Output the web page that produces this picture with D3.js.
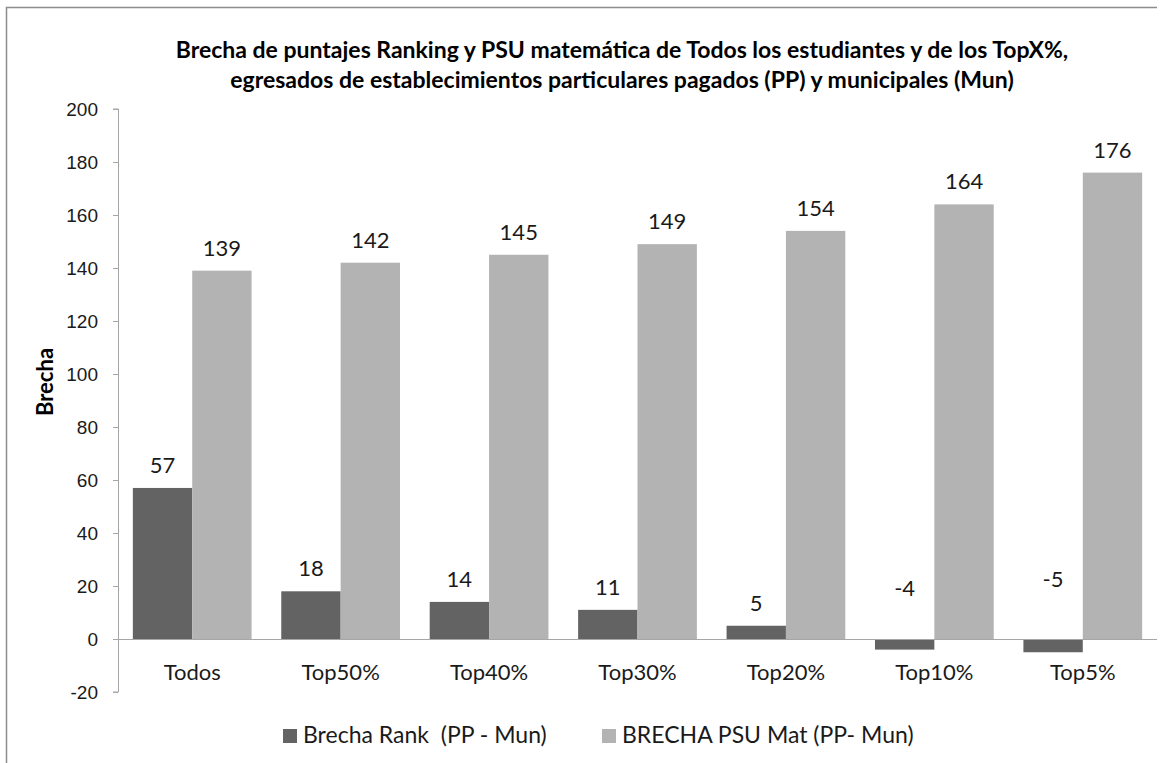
<!DOCTYPE html>
<html>
<head>
<meta charset="utf-8">
<script src="https://cdn.jsdelivr.net/npm/d3@7"></script>
<style>
  body { margin: 0; background: #fff; }
  svg { font-family: Lato, "Open Sans", sans-serif; }
</style>
</head>
<body>
<div id="chart"></div>
<script>
// Data
const categories = ['Todos', 'Top50%', 'Top40%', 'Top30%', 'Top20%', 'Top10%', 'Top5%'];
const rankGap = [57, 18, 14, 11, 5, -4, -5];
const psuGap = [139, 142, 145, 149, 154, 164, 176];
const seriesNames = ['Brecha Rank  (PP - Mun)', 'BRECHA PSU Mat (PP- Mun)'];
const seriesColors = ['#636363', '#b3b3b3'];
const yTicks = [-20, 0, 20, 40, 60, 80, 100, 120, 140, 160, 180, 200];
const titleLines = [
  'Brecha de puntajes Ranking y PSU matemática de Todos los estudiantes y de los TopX%,',
  'egresados de establecimientos particulares pagados (PP) y municipales (Mun)'
];

const W = 1165, H = 763;
const margin = { top: 109, right: 8, bottom: 71, left: 118 };
const width = W - margin.left - margin.right;
const height = H - margin.top - margin.bottom;

const root = d3.select('#chart').append('svg')
  .attr('width', W)
  .attr('height', H);

// Chart frame (left and top edges visible)
root.append('path')
  .attr('d', 'M6.5,763 V7.5 H1157')
  .attr('fill', 'none')
  .attr('stroke', '#8c8c8c')
  .attr('stroke-width', 1.5);

const svg = root.append('g')
  .attr('transform', `translate(${margin.left},${margin.top})`);

const data = categories.map((c, i) => ({ cat: c, values: [rankGap[i], psuGap[i]] }));

const x0 = d3.scaleBand()
  .domain(categories)
  .range([0, width])
  .paddingInner(0.2)
  .paddingOuter(0.1);

const x1 = d3.scaleBand()
  .domain([0, 1])
  .range([0, x0.bandwidth()]);

const y = d3.scaleLinear()
  .domain([-20, 200])
  .range([height, 0]);

// Y axis
const yAxis = svg.append('g')
  .call(d3.axisLeft(y).tickValues(yTicks).tickSize(5).tickPadding(15).tickFormat((d) => String(d)));
yAxis.select('.domain').attr('stroke', '#a6a6a6').attr('d', `M-5,${y(-20)}H0.5V${y(200)}H-5`);
yAxis.selectAll('.tick line').attr('stroke', '#a6a6a6');
yAxis.selectAll('.tick text')
  .style('font-size', '19px')
  .style('fill', '#1a1a1a');

// Bars
const groups = svg.append('g')
  .selectAll('g')
  .data(data)
  .enter()
  .append('g')
  .attr('transform', (d) => `translate(${x0(d.cat)},0)`);

groups.selectAll('rect')
  .data((d) => d.values.map((v, k) => ({ k, v })))
  .enter()
  .append('rect')
  .attr('x', (d) => x1(d.k))
  .attr('y', (d) => y(Math.max(0, d.v)))
  .attr('width', x1.bandwidth())
  .attr('height', (d) => Math.abs(y(d.v) - y(0)))
  .attr('fill', (d) => seriesColors[d.k]);

// Value labels
groups.selectAll('text')
  .data((d) => d.values.map((v, k) => ({ k, v })))
  .enter()
  .append('text')
  .attr('x', (d) => x1(d.k) + x1.bandwidth() / 2)
  .attr('y', (d) => d.v >= 0 ? y(d.v) - 15 : y(0) + 9 * d.v - 7)
  .attr('text-anchor', 'middle')
  .style('font-size', '22px')
  .style('fill', '#1a1a1a')
  .text((d) => d.v);

// X axis line at zero
svg.append('line')
  .attr('x1', 0)
  .attr('x2', width)
  .attr('y1', y(0) + 0.5)
  .attr('y2', y(0) + 0.5)
  .attr('stroke', '#a6a6a6');

// Category labels
svg.append('g')
  .selectAll('text')
  .data(categories)
  .enter()
  .append('text')
  .attr('x', (d) => x0(d) + x0.bandwidth() / 2)
  .attr('y', y(0) + 41)
  .attr('text-anchor', 'middle')
  .style('font-size', '22px')
  .style('fill', '#1a1a1a')
  .text((d) => d);

// Title
root.append('g')
  .selectAll('text')
  .data(titleLines)
  .enter()
  .append('text')
  .attr('x', 622)
  .attr('y', (_, i) => 58 + i * 30)
  .attr('text-anchor', 'middle')
  .style('font-size', '23px')
  .style('font-weight', 'bold')
  .style('fill', '#000')
  .text((d) => d);

// Y axis label
root.append('text')
  .attr('transform', 'rotate(-90)')
  .attr('x', -382)
  .attr('y', 53)
  .attr('text-anchor', 'middle')
  .style('font-size', '22px')
  .style('font-weight', 'bold')
  .text('Brecha');

// Legend
const legendX = [283, 602];
const legend = root.append('g');
legend.selectAll('rect')
  .data(seriesNames)
  .enter()
  .append('rect')
  .attr('x', (_, i) => legendX[i])
  .attr('y', 729)
  .attr('width', 14)
  .attr('height', 14)
  .attr('fill', (_, i) => seriesColors[i]);

legend.selectAll('text')
  .data(seriesNames)
  .enter()
  .append('text')
  .attr('x', (_, i) => legendX[i] + 20)
  .attr('y', 743)
  .style('font-size', '23px')
  .style('fill', '#1a1a1a')
  .style('white-space', 'pre')
  .text((d) => d);
</script>
</body>
</html>
